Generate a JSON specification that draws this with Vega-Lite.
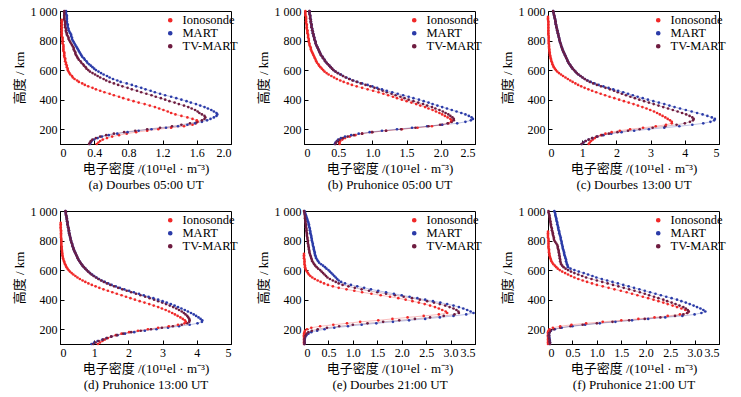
{
"$schema":"https://vega.github.io/schema/vega-lite/v6.json",
"padding":{"left":12,"top":4,"right":5,"bottom":5},
"config":{"font":"Liberation Serif","view":{"stroke":"black","strokeWidth":1},
"axis":{"domainColor":"black","tickColor":"black","labelColor":"black","titleColor":"black","labelFont":"Liberation Serif","titleFont":"Liberation Serif, Noto Sans CJK SC","labelFontSize":12,"titleFontSize":13,"titleFontWeight":"normal","grid":false,"tickSize":-4,"labelPadding":7,"titleLineHeight":16,"titlePadding":4,"labelAngle":0},
"legend":{"labelFont":"Liberation Serif","labelFontSize":12.5,"labelColor":"black","symbolOpacity":1,"orient":"none","legendX":104,"legendY":3,"title":null,"padding":0,"symbolType":"circle","symbolSize":10,"rowPadding":-1.5,"labelOffset":6}},
"datasets":{"d":[
{"p":"a","h":1000,"M":0.07,"T":0.05},{"p":"a","h":990,"M":0.07,"T":0.05},{"p":"a","h":980,"M":0.07,"T":0.05},{"p":"a","h":970,"M":0.08,"T":0.05},{"p":"a","h":960,"M":0.08,"T":0.05},{"p":"a","h":950,"M":0.08,"T":0.05},
{"p":"a","h":940,"I":0.02,"M":0.08,"T":0.05},{"p":"a","h":930,"I":0.02,"M":0.08,"T":0.06},{"p":"a","h":920,"I":0.02,"M":0.08,"T":0.06},{"p":"a","h":910,"I":0.02,"M":0.09,"T":0.06},{"p":"a","h":900,"I":0.02,"M":0.09,"T":0.06},
{"p":"a","h":890,"I":0.02,"M":0.09,"T":0.06},{"p":"a","h":880,"I":0.02,"M":0.10,"T":0.07},{"p":"a","h":870,"I":0.02,"M":0.10,"T":0.07},{"p":"a","h":860,"I":0.02,"M":0.11,"T":0.07},{"p":"a","h":850,"I":0.02,"M":0.12,"T":0.08},
{"p":"a","h":840,"I":0.02,"M":0.13,"T":0.08},{"p":"a","h":830,"I":0.02,"M":0.13,"T":0.09},{"p":"a","h":820,"I":0.03,"M":0.14,"T":0.10},{"p":"a","h":810,"I":0.03,"M":0.14,"T":0.10},{"p":"a","h":800,"I":0.03,"M":0.15,"T":0.11},
{"p":"a","h":790,"I":0.03,"M":0.16,"T":0.12},{"p":"a","h":780,"I":0.03,"M":0.17,"T":0.13},{"p":"a","h":770,"I":0.04,"M":0.18,"T":0.14},{"p":"a","h":760,"I":0.04,"M":0.19,"T":0.15},{"p":"a","h":750,"I":0.04,"M":0.20,"T":0.16},
{"p":"a","h":740,"I":0.04,"M":0.21,"T":0.16},{"p":"a","h":730,"I":0.04,"M":0.22,"T":0.17},{"p":"a","h":720,"I":0.05,"M":0.23,"T":0.18},{"p":"a","h":710,"I":0.05,"M":0.24,"T":0.18},{"p":"a","h":700,"I":0.05,"M":0.25,"T":0.19},
{"p":"a","h":690,"I":0.05,"M":0.26,"T":0.20},{"p":"a","h":680,"I":0.06,"M":0.28,"T":0.21},{"p":"a","h":670,"I":0.06,"M":0.29,"T":0.22},{"p":"a","h":660,"I":0.06,"M":0.31,"T":0.24},{"p":"a","h":650,"I":0.07,"M":0.32,"T":0.25},
{"p":"a","h":640,"I":0.07,"M":0.34,"T":0.27},{"p":"a","h":630,"I":0.08,"M":0.36,"T":0.28},{"p":"a","h":620,"I":0.08,"M":0.38,"T":0.30},{"p":"a","h":610,"I":0.09,"M":0.40,"T":0.31},{"p":"a","h":600,"I":0.09,"M":0.42,"T":0.33},
{"p":"a","h":590,"I":0.10,"M":0.45,"T":0.35},{"p":"a","h":580,"I":0.11,"M":0.48,"T":0.38},{"p":"a","h":570,"I":0.12,"M":0.51,"T":0.41},{"p":"a","h":560,"I":0.14,"M":0.55,"T":0.44},{"p":"a","h":550,"I":0.15,"M":0.58,"T":0.47},
{"p":"a","h":540,"I":0.17,"M":0.62,"T":0.51},{"p":"a","h":530,"I":0.20,"M":0.67,"T":0.54},{"p":"a","h":520,"I":0.22,"M":0.71,"T":0.58},{"p":"a","h":510,"I":0.26,"M":0.78,"T":0.63},{"p":"a","h":500,"I":0.29,"M":0.84,"T":0.68},
{"p":"a","h":490,"I":0.33,"M":0.89,"T":0.73},{"p":"a","h":480,"I":0.38,"M":0.95,"T":0.79},{"p":"a","h":470,"I":0.42,"M":1.00,"T":0.84},{"p":"a","h":460,"I":0.47,"M":1.06,"T":0.90},{"p":"a","h":450,"I":0.52,"M":1.11,"T":0.95},
{"p":"a","h":440,"I":0.58,"M":1.17,"T":1.01},{"p":"a","h":430,"I":0.63,"M":1.23,"T":1.07},{"p":"a","h":420,"I":0.69,"M":1.30,"T":1.12},{"p":"a","h":410,"I":0.74,"M":1.36,"T":1.18},{"p":"a","h":400,"I":0.80,"M":1.42,"T":1.23},
{"p":"a","h":390,"I":0.86,"M":1.48,"T":1.28},{"p":"a","h":380,"I":0.92,"M":1.53,"T":1.34},{"p":"a","h":370,"I":0.99,"M":1.59,"T":1.39},{"p":"a","h":360,"I":1.05,"M":1.64,"T":1.45},{"p":"a","h":350,"I":1.11,"M":1.69,"T":1.50},
{"p":"a","h":340,"I":1.16,"M":1.73,"T":1.54},{"p":"a","h":330,"I":1.21,"M":1.77,"T":1.58},{"p":"a","h":320,"I":1.26,"M":1.80,"T":1.61},{"p":"a","h":310,"I":1.30,"M":1.83,"T":1.63},{"p":"a","h":300,"I":1.35,"M":1.84,"T":1.66},
{"p":"a","h":290,"I":1.42,"M":1.83,"T":1.69},{"p":"a","h":280,"I":1.49,"M":1.80,"T":1.70},{"p":"a","h":270,"I":1.55,"M":1.76,"T":1.69},{"p":"a","h":260,"I":1.60,"M":1.72,"T":1.66},{"p":"a","h":250,"I":1.61,"M":1.66,"T":1.60},
{"p":"a","h":240,"I":1.59,"M":1.58,"T":1.52},{"p":"a","h":230,"I":1.55,"M":1.49,"T":1.42},{"p":"a","h":220,"I":1.45,"M":1.38,"T":1.31},{"p":"a","h":210,"I":1.30,"M":1.24,"T":1.17},{"p":"a","h":200,"I":1.15,"M":1.07,"T":1.02},
{"p":"a","h":190,"I":1.02,"M":0.92,"T":0.88},{"p":"a","h":180,"I":0.89,"M":0.79,"T":0.75},{"p":"a","h":170,"I":0.78,"M":0.67,"T":0.63},{"p":"a","h":160,"I":0.69,"M":0.57,"T":0.54},{"p":"a","h":150,"I":0.61,"M":0.49,"T":0.47},
{"p":"a","h":140,"I":0.55,"M":0.44,"T":0.42},{"p":"a","h":130,"I":0.50,"M":0.40,"T":0.38},{"p":"a","h":120,"I":0.47,"M":0.37,"T":0.36},{"p":"a","h":110,"I":0.45,"M":0.36,"T":0.35},{"p":"a","h":100,"I":0.43,"M":0.35,"T":0.34},

{"p":"b","h":1000,"I":0.02,"M":0.08,"T":0.08},{"p":"b","h":990,"I":0.02,"M":0.08,"T":0.08},{"p":"b","h":980,"I":0.02,"M":0.08,"T":0.08},{"p":"b","h":970,"I":0.02,"M":0.09,"T":0.09},{"p":"b","h":960,"I":0.03,"M":0.09,"T":0.09},
{"p":"b","h":950,"I":0.03,"M":0.09,"T":0.09},{"p":"b","h":940,"I":0.03,"M":0.10,"T":0.10},{"p":"b","h":930,"I":0.03,"M":0.10,"T":0.10},{"p":"b","h":920,"I":0.03,"M":0.10,"T":0.10},{"p":"b","h":910,"I":0.04,"M":0.11,"T":0.11},
{"p":"b","h":900,"I":0.04,"M":0.11,"T":0.11},{"p":"b","h":890,"I":0.04,"M":0.11,"T":0.11},{"p":"b","h":880,"I":0.04,"M":0.12,"T":0.12},{"p":"b","h":870,"I":0.05,"M":0.12,"T":0.12},{"p":"b","h":860,"I":0.05,"M":0.13,"T":0.13},
{"p":"b","h":850,"I":0.05,"M":0.13,"T":0.13},{"p":"b","h":840,"I":0.06,"M":0.14,"T":0.14},{"p":"b","h":830,"I":0.06,"M":0.14,"T":0.14},{"p":"b","h":820,"I":0.06,"M":0.15,"T":0.15},{"p":"b","h":810,"I":0.07,"M":0.15,"T":0.15},
{"p":"b","h":800,"I":0.07,"M":0.16,"T":0.16},{"p":"b","h":790,"I":0.07,"M":0.17,"T":0.17},{"p":"b","h":780,"I":0.08,"M":0.17,"T":0.17},{"p":"b","h":770,"I":0.08,"M":0.18,"T":0.18},{"p":"b","h":760,"I":0.09,"M":0.19,"T":0.19},
{"p":"b","h":750,"I":0.10,"M":0.20,"T":0.20},{"p":"b","h":740,"I":0.10,"M":0.21,"T":0.21},{"p":"b","h":730,"I":0.11,"M":0.22,"T":0.22},{"p":"b","h":720,"I":0.12,"M":0.23,"T":0.23},{"p":"b","h":710,"I":0.13,"M":0.24,"T":0.24},
{"p":"b","h":700,"I":0.14,"M":0.25,"T":0.25},{"p":"b","h":690,"I":0.15,"M":0.27,"T":0.27},{"p":"b","h":680,"I":0.16,"M":0.28,"T":0.28},{"p":"b","h":670,"I":0.17,"M":0.30,"T":0.30},{"p":"b","h":660,"I":0.18,"M":0.31,"T":0.31},
{"p":"b","h":650,"I":0.19,"M":0.33,"T":0.33},{"p":"b","h":640,"I":0.21,"M":0.35,"T":0.35},{"p":"b","h":630,"I":0.22,"M":0.37,"T":0.37},{"p":"b","h":620,"I":0.24,"M":0.39,"T":0.39},{"p":"b","h":610,"I":0.26,"M":0.41,"T":0.41},
{"p":"b","h":600,"I":0.28,"M":0.43,"T":0.43},{"p":"b","h":590,"I":0.30,"M":0.46,"T":0.46},{"p":"b","h":580,"I":0.33,"M":0.50,"T":0.49},{"p":"b","h":570,"I":0.36,"M":0.54,"T":0.53},{"p":"b","h":560,"I":0.40,"M":0.57,"T":0.57},
{"p":"b","h":550,"I":0.44,"M":0.62,"T":0.61},{"p":"b","h":540,"I":0.48,"M":0.67,"T":0.66},{"p":"b","h":530,"I":0.53,"M":0.72,"T":0.71},{"p":"b","h":520,"I":0.58,"M":0.78,"T":0.77},{"p":"b","h":510,"I":0.64,"M":0.85,"T":0.83},
{"p":"b","h":500,"I":0.70,"M":0.93,"T":0.90},{"p":"b","h":490,"I":0.77,"M":1.00,"T":0.97},{"p":"b","h":480,"I":0.85,"M":1.07,"T":1.03},{"p":"b","h":470,"I":0.93,"M":1.14,"T":1.09},{"p":"b","h":460,"I":1.01,"M":1.21,"T":1.15},
{"p":"b","h":450,"I":1.09,"M":1.29,"T":1.21},{"p":"b","h":440,"I":1.16,"M":1.37,"T":1.28},{"p":"b","h":430,"I":1.23,"M":1.45,"T":1.34},{"p":"b","h":420,"I":1.30,"M":1.53,"T":1.41},{"p":"b","h":410,"I":1.36,"M":1.60,"T":1.47},
{"p":"b","h":400,"I":1.43,"M":1.68,"T":1.53},{"p":"b","h":390,"I":1.50,"M":1.75,"T":1.60},{"p":"b","h":380,"I":1.57,"M":1.82,"T":1.67},{"p":"b","h":370,"I":1.64,"M":1.88,"T":1.74},{"p":"b","h":360,"I":1.70,"M":1.95,"T":1.80},
{"p":"b","h":350,"I":1.77,"M":2.02,"T":1.87},{"p":"b","h":340,"I":1.82,"M":2.09,"T":1.92},{"p":"b","h":330,"I":1.88,"M":2.16,"T":1.98},{"p":"b","h":320,"I":1.93,"M":2.23,"T":2.03},{"p":"b","h":310,"I":1.98,"M":2.30,"T":2.07},
{"p":"b","h":300,"I":2.02,"M":2.36,"T":2.11},{"p":"b","h":290,"I":2.06,"M":2.41,"T":2.14},{"p":"b","h":280,"I":2.10,"M":2.45,"T":2.17},{"p":"b","h":270,"I":2.14,"M":2.47,"T":2.19},{"p":"b","h":260,"I":2.16,"M":2.44,"T":2.19},
{"p":"b","h":250,"I":2.15,"M":2.36,"T":2.16},{"p":"b","h":240,"I":2.11,"M":2.24,"T":2.10},{"p":"b","h":230,"I":2.02,"M":2.02,"T":1.99},{"p":"b","h":220,"I":1.87,"M":1.80,"T":1.82},{"p":"b","h":210,"I":1.66,"M":1.58,"T":1.63},
{"p":"b","h":200,"I":1.43,"M":1.36,"T":1.42},{"p":"b","h":190,"I":1.20,"M":1.14,"T":1.20},{"p":"b","h":180,"I":0.99,"M":0.96,"T":1.00},{"p":"b","h":170,"I":0.85,"M":0.80,"T":0.85},{"p":"b","h":160,"I":0.75,"M":0.69,"T":0.73},
{"p":"b","h":150,"I":0.67,"M":0.60,"T":0.64},{"p":"b","h":140,"I":0.60,"M":0.54,"T":0.57},{"p":"b","h":130,"I":0.56,"M":0.50,"T":0.52},{"p":"b","h":120,"I":0.53,"M":0.48,"T":0.49},{"p":"b","h":110,"I":0.52,"M":0.46,"T":0.47},
{"p":"b","h":100,"I":0.52,"M":0.45,"T":0.46},

{"p":"c","h":1000,"M":0.15,"T":0.15},{"p":"c","h":990,"M":0.16,"T":0.16},{"p":"c","h":980,"M":0.17,"T":0.17},{"p":"c","h":970,"M":0.18,"T":0.18},{"p":"c","h":960,"I":0.00,"M":0.19,"T":0.19},
{"p":"c","h":950,"I":0.00,"M":0.20,"T":0.20},{"p":"c","h":940,"I":0.00,"M":0.21,"T":0.21},{"p":"c","h":930,"I":0.01,"M":0.22,"T":0.22},{"p":"c","h":920,"I":0.01,"M":0.22,"T":0.22},{"p":"c","h":910,"I":0.01,"M":0.23,"T":0.23},
{"p":"c","h":900,"I":0.01,"M":0.24,"T":0.24},{"p":"c","h":890,"I":0.01,"M":0.25,"T":0.25},{"p":"c","h":880,"I":0.01,"M":0.26,"T":0.26},{"p":"c","h":870,"I":0.01,"M":0.27,"T":0.27},{"p":"c","h":860,"I":0.01,"M":0.28,"T":0.28},
{"p":"c","h":850,"I":0.01,"M":0.29,"T":0.29},{"p":"c","h":840,"I":0.01,"M":0.30,"T":0.30},{"p":"c","h":830,"I":0.02,"M":0.31,"T":0.31},{"p":"c","h":820,"I":0.02,"M":0.32,"T":0.32},{"p":"c","h":810,"I":0.02,"M":0.33,"T":0.33},
{"p":"c","h":800,"I":0.02,"M":0.34,"T":0.34},{"p":"c","h":790,"I":0.02,"M":0.35,"T":0.35},{"p":"c","h":780,"I":0.02,"M":0.37,"T":0.37},{"p":"c","h":770,"I":0.03,"M":0.38,"T":0.38},{"p":"c","h":760,"I":0.03,"M":0.39,"T":0.39},
{"p":"c","h":750,"I":0.03,"M":0.41,"T":0.41},{"p":"c","h":740,"I":0.04,"M":0.42,"T":0.42},{"p":"c","h":730,"I":0.04,"M":0.44,"T":0.44},{"p":"c","h":720,"I":0.05,"M":0.46,"T":0.46},{"p":"c","h":710,"I":0.05,"M":0.48,"T":0.48},
{"p":"c","h":700,"I":0.06,"M":0.50,"T":0.50},{"p":"c","h":690,"I":0.07,"M":0.52,"T":0.52},{"p":"c","h":680,"I":0.08,"M":0.54,"T":0.54},{"p":"c","h":670,"I":0.09,"M":0.56,"T":0.56},{"p":"c","h":660,"I":0.10,"M":0.58,"T":0.58},
{"p":"c","h":650,"I":0.12,"M":0.60,"T":0.60},{"p":"c","h":640,"I":0.13,"M":0.63,"T":0.63},{"p":"c","h":630,"I":0.15,"M":0.66,"T":0.66},{"p":"c","h":620,"I":0.17,"M":0.69,"T":0.69},{"p":"c","h":610,"I":0.20,"M":0.72,"T":0.72},
{"p":"c","h":600,"I":0.23,"M":0.76,"T":0.76},{"p":"c","h":590,"I":0.27,"M":0.80,"T":0.80},{"p":"c","h":580,"I":0.32,"M":0.84,"T":0.84},{"p":"c","h":570,"I":0.38,"M":0.89,"T":0.89},{"p":"c","h":560,"I":0.44,"M":0.95,"T":0.95},
{"p":"c","h":550,"I":0.51,"M":1.01,"T":1.01},{"p":"c","h":540,"I":0.58,"M":1.08,"T":1.07},{"p":"c","h":530,"I":0.65,"M":1.16,"T":1.14},{"p":"c","h":520,"I":0.72,"M":1.25,"T":1.22},{"p":"c","h":510,"I":0.80,"M":1.36,"T":1.32},
{"p":"c","h":500,"I":0.88,"M":1.48,"T":1.43},{"p":"c","h":490,"I":0.97,"M":1.62,"T":1.55},{"p":"c","h":480,"I":1.07,"M":1.77,"T":1.68},{"p":"c","h":470,"I":1.18,"M":1.91,"T":1.81},{"p":"c","h":460,"I":1.29,"M":2.05,"T":1.93},
{"p":"c","h":450,"I":1.41,"M":2.20,"T":2.04},{"p":"c","h":440,"I":1.54,"M":2.34,"T":2.16},{"p":"c","h":430,"I":1.67,"M":2.48,"T":2.28},{"p":"c","h":420,"I":1.80,"M":2.62,"T":2.41},{"p":"c","h":410,"I":1.94,"M":2.77,"T":2.54},
{"p":"c","h":400,"I":2.08,"M":2.92,"T":2.67},{"p":"c","h":390,"I":2.22,"M":3.08,"T":2.81},{"p":"c","h":380,"I":2.36,"M":3.24,"T":2.95},{"p":"c","h":370,"I":2.50,"M":3.40,"T":3.09},{"p":"c","h":360,"I":2.63,"M":3.55,"T":3.23},
{"p":"c","h":350,"I":2.76,"M":3.70,"T":3.37},{"p":"c","h":340,"I":2.88,"M":3.86,"T":3.51},{"p":"c","h":330,"I":2.99,"M":4.03,"T":3.65},{"p":"c","h":320,"I":3.10,"M":4.20,"T":3.79},{"p":"c","h":310,"I":3.19,"M":4.36,"T":3.92},
{"p":"c","h":300,"I":3.27,"M":4.52,"T":4.04},{"p":"c","h":290,"I":3.35,"M":4.66,"T":4.14},{"p":"c","h":280,"I":3.43,"M":4.79,"T":4.22},{"p":"c","h":270,"I":3.50,"M":4.88,"T":4.26},{"p":"c","h":260,"I":3.57,"M":4.86,"T":4.24},
{"p":"c","h":250,"I":3.62,"M":4.75,"T":4.15},{"p":"c","h":240,"I":3.62,"M":4.54,"T":4.00},{"p":"c","h":230,"I":3.45,"M":4.22,"T":3.76},{"p":"c","h":220,"I":3.15,"M":3.84,"T":3.43},{"p":"c","h":210,"I":2.78,"M":3.40,"T":3.06},
{"p":"c","h":200,"I":2.40,"M":2.95,"T":2.68},{"p":"c","h":190,"I":2.10,"M":2.52,"T":2.34},{"p":"c","h":180,"I":1.86,"M":2.15,"T":2.03},{"p":"c","h":170,"I":1.68,"M":1.85,"T":1.78},{"p":"c","h":160,"I":1.55,"M":1.62,"T":1.58},
{"p":"c","h":150,"I":1.45,"M":1.44,"T":1.42},{"p":"c","h":140,"I":1.37,"M":1.30,"T":1.29},{"p":"c","h":130,"I":1.31,"M":1.19,"T":1.19},{"p":"c","h":120,"I":1.26,"M":1.10,"T":1.10},{"p":"c","h":110,"I":1.22,"M":1.04,"T":1.03},
{"p":"c","h":100,"I":1.19,"M":0.99,"T":0.98},

{"p":"d","h":1000,"M":0.16,"T":0.16},{"p":"d","h":990,"M":0.17,"T":0.17},{"p":"d","h":980,"M":0.17,"T":0.17},{"p":"d","h":970,"M":0.18,"T":0.18},{"p":"d","h":960,"M":0.19,"T":0.19},
{"p":"d","h":950,"M":0.20,"T":0.20},{"p":"d","h":940,"M":0.20,"T":0.20},{"p":"d","h":930,"M":0.21,"T":0.21},{"p":"d","h":920,"I":0.02,"M":0.22,"T":0.22},{"p":"d","h":910,"I":0.02,"M":0.22,"T":0.22},
{"p":"d","h":900,"I":0.02,"M":0.23,"T":0.23},{"p":"d","h":890,"I":0.02,"M":0.24,"T":0.24},{"p":"d","h":880,"I":0.02,"M":0.25,"T":0.25},{"p":"d","h":870,"I":0.03,"M":0.26,"T":0.26},{"p":"d","h":860,"I":0.03,"M":0.26,"T":0.26},
{"p":"d","h":850,"I":0.03,"M":0.27,"T":0.27},{"p":"d","h":840,"I":0.03,"M":0.28,"T":0.28},{"p":"d","h":830,"I":0.03,"M":0.29,"T":0.29},{"p":"d","h":820,"I":0.03,"M":0.30,"T":0.30},{"p":"d","h":810,"I":0.04,"M":0.31,"T":0.31},
{"p":"d","h":800,"I":0.04,"M":0.32,"T":0.32},{"p":"d","h":790,"I":0.04,"M":0.33,"T":0.33},{"p":"d","h":780,"I":0.04,"M":0.35,"T":0.35},{"p":"d","h":770,"I":0.04,"M":0.36,"T":0.36},{"p":"d","h":760,"I":0.05,"M":0.37,"T":0.37},
{"p":"d","h":750,"I":0.05,"M":0.39,"T":0.39},{"p":"d","h":740,"I":0.05,"M":0.40,"T":0.40},{"p":"d","h":730,"I":0.06,"M":0.42,"T":0.42},{"p":"d","h":720,"I":0.06,"M":0.44,"T":0.44},{"p":"d","h":710,"I":0.07,"M":0.46,"T":0.46},
{"p":"d","h":700,"I":0.07,"M":0.48,"T":0.48},{"p":"d","h":690,"I":0.08,"M":0.50,"T":0.50},{"p":"d","h":680,"I":0.09,"M":0.52,"T":0.52},{"p":"d","h":670,"I":0.10,"M":0.54,"T":0.54},{"p":"d","h":660,"I":0.12,"M":0.57,"T":0.57},
{"p":"d","h":650,"I":0.13,"M":0.60,"T":0.60},{"p":"d","h":640,"I":0.15,"M":0.63,"T":0.63},{"p":"d","h":630,"I":0.17,"M":0.66,"T":0.66},{"p":"d","h":620,"I":0.19,"M":0.70,"T":0.70},{"p":"d","h":610,"I":0.22,"M":0.74,"T":0.74},
{"p":"d","h":600,"I":0.25,"M":0.78,"T":0.78},{"p":"d","h":590,"I":0.29,"M":0.83,"T":0.82},{"p":"d","h":580,"I":0.34,"M":0.88,"T":0.87},{"p":"d","h":570,"I":0.39,"M":0.94,"T":0.92},{"p":"d","h":560,"I":0.45,"M":1.00,"T":0.98},
{"p":"d","h":550,"I":0.51,"M":1.07,"T":1.05},{"p":"d","h":540,"I":0.58,"M":1.14,"T":1.12},{"p":"d","h":530,"I":0.66,"M":1.22,"T":1.20},{"p":"d","h":520,"I":0.74,"M":1.31,"T":1.28},{"p":"d","h":510,"I":0.83,"M":1.41,"T":1.37},
{"p":"d","h":500,"I":0.93,"M":1.51,"T":1.47},{"p":"d","h":490,"I":1.04,"M":1.63,"T":1.58},{"p":"d","h":480,"I":1.15,"M":1.75,"T":1.70},{"p":"d","h":470,"I":1.27,"M":1.88,"T":1.82},{"p":"d","h":460,"I":1.40,"M":2.02,"T":1.95},
{"p":"d","h":450,"I":1.53,"M":2.16,"T":2.08},{"p":"d","h":440,"I":1.66,"M":2.31,"T":2.22},{"p":"d","h":430,"I":1.80,"M":2.45,"T":2.35},{"p":"d","h":420,"I":1.93,"M":2.59,"T":2.49},{"p":"d","h":410,"I":2.06,"M":2.73,"T":2.62},
{"p":"d","h":400,"I":2.19,"M":2.87,"T":2.75},{"p":"d","h":390,"I":2.33,"M":3.00,"T":2.87},{"p":"d","h":380,"I":2.47,"M":3.12,"T":2.99},{"p":"d","h":370,"I":2.61,"M":3.24,"T":3.10},{"p":"d","h":360,"I":2.74,"M":3.35,"T":3.21},
{"p":"d","h":350,"I":2.87,"M":3.45,"T":3.31},{"p":"d","h":340,"I":2.98,"M":3.55,"T":3.40},{"p":"d","h":330,"I":3.09,"M":3.65,"T":3.48},{"p":"d","h":320,"I":3.19,"M":3.74,"T":3.56},{"p":"d","h":310,"I":3.28,"M":3.83,"T":3.62},
{"p":"d","h":300,"I":3.36,"M":3.91,"T":3.67},{"p":"d","h":290,"I":3.44,"M":3.98,"T":3.72},{"p":"d","h":280,"I":3.52,"M":4.05,"T":3.75},{"p":"d","h":270,"I":3.59,"M":4.11,"T":3.78},{"p":"d","h":260,"I":3.65,"M":4.16,"T":3.79},
{"p":"d","h":250,"I":3.68,"M":4.15,"T":3.78},{"p":"d","h":240,"I":3.64,"M":4.02,"T":3.72},{"p":"d","h":230,"I":3.45,"M":3.79,"T":3.56},{"p":"d","h":220,"I":3.18,"M":3.48,"T":3.30},{"p":"d","h":210,"I":2.87,"M":3.16,"T":2.98},
{"p":"d","h":200,"I":2.57,"M":2.82,"T":2.66},{"p":"d","h":190,"I":2.28,"M":2.48,"T":2.36},{"p":"d","h":180,"I":2.02,"M":2.17,"T":2.08},{"p":"d","h":170,"I":1.80,"M":1.90,"T":1.85},{"p":"d","h":160,"I":1.63,"M":1.68,"T":1.66},
{"p":"d","h":150,"I":1.50,"M":1.50,"T":1.50},{"p":"d","h":140,"I":1.40,"M":1.36,"T":1.37},{"p":"d","h":130,"I":1.31,"M":1.24,"T":1.26},{"p":"d","h":120,"I":1.24,"M":1.10,"T":1.13},{"p":"d","h":110,"I":1.17,"M":1.00,"T":1.04},
{"p":"d","h":100,"I":1.11,"M":0.92,"T":0.97},

{"p":"e","h":1000,"M":0.01,"T":0.00},{"p":"e","h":990,"M":0.02,"T":0.01},{"p":"e","h":980,"M":0.03,"T":0.01},{"p":"e","h":970,"M":0.04,"T":0.02},{"p":"e","h":960,"M":0.05,"T":0.02},
{"p":"e","h":950,"M":0.06,"T":0.02},{"p":"e","h":940,"M":0.07,"T":0.03},{"p":"e","h":930,"M":0.08,"T":0.03},{"p":"e","h":920,"M":0.09,"T":0.03},{"p":"e","h":910,"M":0.10,"T":0.04},
{"p":"e","h":900,"M":0.10,"T":0.04},{"p":"e","h":890,"M":0.11,"T":0.04},{"p":"e","h":880,"M":0.12,"T":0.05},{"p":"e","h":870,"M":0.12,"T":0.05},{"p":"e","h":860,"M":0.13,"T":0.05},
{"p":"e","h":850,"M":0.13,"T":0.06},{"p":"e","h":840,"M":0.14,"T":0.06},{"p":"e","h":830,"M":0.15,"T":0.06},{"p":"e","h":820,"M":0.15,"T":0.07},{"p":"e","h":810,"M":0.16,"T":0.07},
{"p":"e","h":800,"M":0.16,"T":0.08},{"p":"e","h":790,"M":0.17,"T":0.08},{"p":"e","h":780,"M":0.18,"T":0.08},{"p":"e","h":770,"M":0.18,"T":0.09},{"p":"e","h":760,"M":0.19,"T":0.09},
{"p":"e","h":750,"M":0.20,"T":0.10},{"p":"e","h":740,"M":0.20,"T":0.10},{"p":"e","h":730,"M":0.21,"T":0.11},{"p":"e","h":720,"M":0.22,"T":0.11},{"p":"e","h":710,"I":0.00,"M":0.22,"T":0.12},
{"p":"e","h":700,"I":0.00,"M":0.23,"T":0.13},{"p":"e","h":690,"I":0.00,"M":0.24,"T":0.14},{"p":"e","h":680,"I":0.00,"M":0.25,"T":0.15},{"p":"e","h":670,"I":0.01,"M":0.27,"T":0.16},{"p":"e","h":660,"I":0.01,"M":0.29,"T":0.17},
{"p":"e","h":650,"I":0.01,"M":0.31,"T":0.19},{"p":"e","h":640,"I":0.01,"M":0.35,"T":0.21},{"p":"e","h":630,"I":0.02,"M":0.39,"T":0.23},{"p":"e","h":620,"I":0.02,"M":0.43,"T":0.26},{"p":"e","h":610,"I":0.03,"M":0.46,"T":0.29},
{"p":"e","h":600,"I":0.04,"M":0.50,"T":0.33},{"p":"e","h":590,"I":0.06,"M":0.53,"T":0.36},{"p":"e","h":580,"I":0.08,"M":0.56,"T":0.39},{"p":"e","h":570,"I":0.10,"M":0.59,"T":0.42},{"p":"e","h":560,"I":0.13,"M":0.62,"T":0.45},
{"p":"e","h":550,"I":0.17,"M":0.65,"T":0.48},{"p":"e","h":540,"I":0.22,"M":0.68,"T":0.53},{"p":"e","h":530,"I":0.28,"M":0.71,"T":0.59},{"p":"e","h":520,"I":0.34,"M":0.76,"T":0.65},{"p":"e","h":510,"I":0.41,"M":0.84,"T":0.71},
{"p":"e","h":500,"I":0.49,"M":0.96,"T":0.79},{"p":"e","h":490,"I":0.59,"M":1.09,"T":0.91},{"p":"e","h":480,"I":0.71,"M":1.23,"T":1.04},{"p":"e","h":470,"I":0.87,"M":1.37,"T":1.18},{"p":"e","h":460,"I":1.03,"M":1.52,"T":1.33},
{"p":"e","h":450,"I":1.19,"M":1.68,"T":1.50},{"p":"e","h":440,"I":1.38,"M":1.84,"T":1.68},{"p":"e","h":430,"I":1.57,"M":2.00,"T":1.86},{"p":"e","h":420,"I":1.76,"M":2.16,"T":2.04},{"p":"e","h":410,"I":1.93,"M":2.32,"T":2.21},
{"p":"e","h":400,"I":2.08,"M":2.48,"T":2.37},{"p":"e","h":390,"I":2.22,"M":2.64,"T":2.52},{"p":"e","h":380,"I":2.35,"M":2.79,"T":2.66},{"p":"e","h":370,"I":2.47,"M":2.93,"T":2.78},{"p":"e","h":360,"I":2.58,"M":3.06,"T":2.89},
{"p":"e","h":350,"I":2.68,"M":3.17,"T":2.98},{"p":"e","h":340,"I":2.76,"M":3.26,"T":3.06},{"p":"e","h":330,"I":2.83,"M":3.34,"T":3.12},{"p":"e","h":320,"I":2.90,"M":3.41,"T":3.16},{"p":"e","h":310,"I":2.93,"M":3.47,"T":3.17},
{"p":"e","h":300,"I":2.76,"M":3.32,"T":3.08},{"p":"e","h":290,"I":2.45,"M":3.06,"T":2.86},{"p":"e","h":280,"I":2.12,"M":2.78,"T":2.58},{"p":"e","h":270,"I":1.81,"M":2.48,"T":2.27},{"p":"e","h":260,"I":1.52,"M":2.15,"T":1.95},
{"p":"e","h":250,"I":1.15,"M":1.82,"T":1.62},{"p":"e","h":240,"I":0.88,"M":1.48,"T":1.30},{"p":"e","h":230,"I":0.60,"M":1.18,"T":1.00},{"p":"e","h":220,"I":0.33,"M":0.90,"T":0.72},{"p":"e","h":210,"I":0.15,"M":0.62,"T":0.47},
{"p":"e","h":200,"I":0.06,"M":0.42,"T":0.28},{"p":"e","h":190,"I":0.02,"M":0.27,"T":0.16},{"p":"e","h":180,"I":0.01,"M":0.15,"T":0.09},{"p":"e","h":170,"I":0.00,"M":0.09,"T":0.05},{"p":"e","h":160,"I":0.00,"M":0.05,"T":0.03},
{"p":"e","h":150,"I":0.00,"M":0.03,"T":0.02},{"p":"e","h":140,"I":0.00,"M":0.02,"T":0.01},{"p":"e","h":130,"I":0.00,"M":0.01,"T":0.01},{"p":"e","h":120,"I":0.00,"M":0.01,"T":0.01},{"p":"e","h":110,"I":0.00,"M":0.01,"T":0.01},
{"p":"e","h":100,"I":0.00,"M":0.01,"T":0.01},

{"p":"f","h":1000,"M":0.13,"T":0.01},{"p":"f","h":990,"M":0.14,"T":0.01},{"p":"f","h":980,"M":0.15,"T":0.02},{"p":"f","h":970,"M":0.15,"T":0.03},{"p":"f","h":960,"M":0.16,"T":0.03},
{"p":"f","h":950,"M":0.17,"T":0.04},{"p":"f","h":940,"M":0.17,"T":0.04},{"p":"f","h":930,"M":0.18,"T":0.05},{"p":"f","h":920,"M":0.19,"T":0.05},{"p":"f","h":910,"M":0.19,"T":0.06},
{"p":"f","h":900,"M":0.20,"T":0.06},{"p":"f","h":890,"M":0.21,"T":0.07},{"p":"f","h":880,"M":0.21,"T":0.08},{"p":"f","h":870,"M":0.22,"T":0.08},{"p":"f","h":860,"I":0.00,"M":0.23,"T":0.09},
{"p":"f","h":850,"I":0.00,"M":0.23,"T":0.10},{"p":"f","h":840,"I":0.00,"M":0.24,"T":0.10},{"p":"f","h":830,"I":0.00,"M":0.25,"T":0.11},{"p":"f","h":820,"I":0.00,"M":0.26,"T":0.12},{"p":"f","h":810,"I":0.01,"M":0.26,"T":0.12},
{"p":"f","h":800,"I":0.01,"M":0.27,"T":0.13},{"p":"f","h":790,"I":0.01,"M":0.28,"T":0.15},{"p":"f","h":780,"I":0.01,"M":0.28,"T":0.17},{"p":"f","h":770,"I":0.01,"M":0.29,"T":0.19},{"p":"f","h":760,"I":0.01,"M":0.30,"T":0.20},
{"p":"f","h":750,"I":0.01,"M":0.30,"T":0.20},{"p":"f","h":740,"I":0.02,"M":0.31,"T":0.21},{"p":"f","h":730,"I":0.02,"M":0.32,"T":0.22},{"p":"f","h":720,"I":0.02,"M":0.33,"T":0.22},{"p":"f","h":710,"I":0.03,"M":0.33,"T":0.23},
{"p":"f","h":700,"I":0.03,"M":0.34,"T":0.23},{"p":"f","h":690,"I":0.04,"M":0.35,"T":0.24},{"p":"f","h":680,"I":0.05,"M":0.36,"T":0.24},{"p":"f","h":670,"I":0.06,"M":0.37,"T":0.25},{"p":"f","h":660,"I":0.07,"M":0.37,"T":0.25},
{"p":"f","h":650,"I":0.09,"M":0.38,"T":0.26},{"p":"f","h":640,"I":0.11,"M":0.39,"T":0.27},{"p":"f","h":630,"I":0.14,"M":0.40,"T":0.29},{"p":"f","h":620,"I":0.17,"M":0.41,"T":0.32},{"p":"f","h":610,"I":0.20,"M":0.46,"T":0.36},
{"p":"f","h":600,"I":0.24,"M":0.54,"T":0.41},{"p":"f","h":590,"I":0.29,"M":0.63,"T":0.47},{"p":"f","h":580,"I":0.35,"M":0.73,"T":0.54},{"p":"f","h":570,"I":0.41,"M":0.82,"T":0.62},{"p":"f","h":560,"I":0.47,"M":0.91,"T":0.70},
{"p":"f","h":550,"I":0.54,"M":0.99,"T":0.78},{"p":"f","h":540,"I":0.62,"M":1.10,"T":0.89},{"p":"f","h":530,"I":0.71,"M":1.21,"T":1.00},{"p":"f","h":520,"I":0.80,"M":1.32,"T":1.11},{"p":"f","h":510,"I":0.90,"M":1.43,"T":1.22},
{"p":"f","h":500,"I":1.00,"M":1.54,"T":1.33},{"p":"f","h":490,"I":1.12,"M":1.65,"T":1.44},{"p":"f","h":480,"I":1.24,"M":1.76,"T":1.55},{"p":"f","h":470,"I":1.36,"M":1.87,"T":1.66},{"p":"f","h":460,"I":1.49,"M":1.98,"T":1.77},
{"p":"f","h":450,"I":1.61,"M":2.09,"T":1.88},{"p":"f","h":440,"I":1.72,"M":2.20,"T":1.98},{"p":"f","h":430,"I":1.83,"M":2.31,"T":2.07},{"p":"f","h":420,"I":1.94,"M":2.42,"T":2.17},{"p":"f","h":410,"I":2.05,"M":2.53,"T":2.26},
{"p":"f","h":400,"I":2.16,"M":2.64,"T":2.36},{"p":"f","h":390,"I":2.26,"M":2.73,"T":2.44},{"p":"f","h":380,"I":2.36,"M":2.82,"T":2.53},{"p":"f","h":370,"I":2.45,"M":2.90,"T":2.61},{"p":"f","h":360,"I":2.55,"M":2.98,"T":2.69},
{"p":"f","h":350,"I":2.64,"M":3.05,"T":2.77},{"p":"f","h":340,"I":2.73,"M":3.12,"T":2.82},{"p":"f","h":330,"I":2.81,"M":3.18,"T":2.86},{"p":"f","h":320,"I":2.88,"M":3.22,"T":2.88},{"p":"f","h":310,"I":2.85,"M":3.14,"T":2.85},
{"p":"f","h":300,"I":2.70,"M":3.00,"T":2.77},{"p":"f","h":290,"I":2.45,"M":2.75,"T":2.60},{"p":"f","h":280,"I":2.18,"M":2.40,"T":2.30},{"p":"f","h":270,"I":1.85,"M":2.05,"T":1.98},{"p":"f","h":260,"I":1.50,"M":1.72,"T":1.66},
{"p":"f","h":250,"I":1.12,"M":1.38,"T":1.32},{"p":"f","h":240,"I":0.78,"M":1.06,"T":1.00},{"p":"f","h":230,"I":0.48,"M":0.76,"T":0.71},{"p":"f","h":220,"I":0.25,"M":0.50,"T":0.46},{"p":"f","h":210,"I":0.10,"M":0.28,"T":0.25},
{"p":"f","h":200,"I":0.03,"M":0.14,"T":0.12},{"p":"f","h":190,"I":0.01,"M":0.06,"T":0.05},{"p":"f","h":180,"I":0.00,"M":0.03,"T":0.03},{"p":"f","h":170,"I":0.00,"M":0.02,"T":0.02},{"p":"f","h":160,"I":0.00,"M":0.02,"T":0.02},
{"p":"f","h":150,"I":0.00,"M":0.02,"T":0.02},{"p":"f","h":140,"I":0.00,"M":0.03,"T":0.02},{"p":"f","h":130,"I":0.00,"M":0.03,"T":0.03},{"p":"f","h":120,"I":0.00,"M":0.04,"T":0.03},{"p":"f","h":110,"I":0.00,"M":0.04,"T":0.04},
{"p":"f","h":100,"I":0.00,"M":0.04,"T":0.04}
]},
"resolve":{"scale":{"color":"independent","x":"independent"},"legend":{"color":"independent"}},
"spacing":12,
"vconcat":[
{"resolve":{"scale":{"color":"independent","x":"independent"},"legend":{"color":"independent"}},
"spacing":17,
"hconcat":[
{"width":171,"height":133,"data":{"name":"d"},
"transform":[{"filter":"datum.p=='a'"},{"fold":["I","M","T"],"as":["s","v"]},{"filter":"isValid(datum.v)"}],
"encoding":{
"x":{"field":"v","type":"quantitative","scale":{"domain":[0,2],"nice":false},"axis":{"values":[0,0.4,0.8,1.2,1.6,2],"labelExpr":"datum.value==0?'0':format(datum.value,'.1f')","title":["电子密度 /(10¹¹el · m⁻³)","(a) Dourbes 05:00 UT"]}},
"y":{"field":"h","type":"quantitative","scale":{"domain":[100,1000],"nice":false},"axis":{"values":[200,400,600,800,1000],"labelExpr":"datum.value==1000?'1 000':datum.label","title":"高度 / km"}},
"color":{"field":"s","type":"nominal","scale":{"domain":["I","M","T"],"range":["#f02828","#2b3ba8","#6e1c40"]},"legend":{"labelExpr":"datum.label=='I'?'Ionosonde':datum.label=='M'?'MART':'TV-MART'"}},
"order":{"field":"h","type":"quantitative"}},
"layer":[{"mark":{"type":"line","strokeWidth":1,"opacity":0.3}},{"mark":{"type":"point","filled":true,"size":7,"opacity":1}}]},
{"width":171,"height":133,"data":{"name":"d"},
"transform":[{"filter":"datum.p=='b'"},{"fold":["I","M","T"],"as":["s","v"]},{"filter":"isValid(datum.v)"}],
"encoding":{
"x":{"field":"v","type":"quantitative","scale":{"domain":[0,2.5],"nice":false},"axis":{"values":[0,0.5,1,1.5,2,2.5],"labelExpr":"datum.value==0?'0':format(datum.value,'.1f')","title":["电子密度 /(10¹¹el · m⁻³)","(b) Pruhonice 05:00 UT"]}},
"y":{"field":"h","type":"quantitative","scale":{"domain":[100,1000],"nice":false},"axis":{"values":[200,400,600,800,1000],"labelExpr":"datum.value==1000?'1 000':datum.label","title":"高度 / km"}},
"color":{"field":"s","type":"nominal","scale":{"domain":["I","M","T"],"range":["#f02828","#2b3ba8","#6e1c40"]},"legend":{"labelExpr":"datum.label=='I'?'Ionosonde':datum.label=='M'?'MART':'TV-MART'"}},
"order":{"field":"h","type":"quantitative"}},
"layer":[{"mark":{"type":"line","strokeWidth":1,"opacity":0.3}},{"mark":{"type":"point","filled":true,"size":7,"opacity":1}}]},
{"width":171,"height":133,"data":{"name":"d"},
"transform":[{"filter":"datum.p=='c'"},{"fold":["I","M","T"],"as":["s","v"]},{"filter":"isValid(datum.v)"}],
"encoding":{
"x":{"field":"v","type":"quantitative","scale":{"domain":[0,5],"nice":false},"axis":{"values":[0,1,2,3,4,5],"title":["电子密度 /(10¹¹el · m⁻³)","(c) Dourbes 13:00 UT"]}},
"y":{"field":"h","type":"quantitative","scale":{"domain":[100,1000],"nice":false},"axis":{"values":[200,400,600,800,1000],"labelExpr":"datum.value==1000?'1 000':datum.label","title":"高度 / km"}},
"color":{"field":"s","type":"nominal","scale":{"domain":["I","M","T"],"range":["#f02828","#2b3ba8","#6e1c40"]},"legend":{"labelExpr":"datum.label=='I'?'Ionosonde':datum.label=='M'?'MART':'TV-MART'"}},
"order":{"field":"h","type":"quantitative"}},
"layer":[{"mark":{"type":"line","strokeWidth":1,"opacity":0.3}},{"mark":{"type":"point","filled":true,"size":7,"opacity":1}}]}
]},
{"resolve":{"scale":{"color":"independent","x":"independent"},"legend":{"color":"independent"}},
"spacing":17,
"hconcat":[
{"width":171,"height":133,"data":{"name":"d"},
"transform":[{"filter":"datum.p=='d'"},{"fold":["I","M","T"],"as":["s","v"]},{"filter":"isValid(datum.v)"}],
"encoding":{
"x":{"field":"v","type":"quantitative","scale":{"domain":[0,5],"nice":false},"axis":{"values":[0,1,2,3,4,5],"title":["电子密度 /(10¹¹el · m⁻³)","(d) Pruhonice 13:00 UT"]}},
"y":{"field":"h","type":"quantitative","scale":{"domain":[100,1000],"nice":false},"axis":{"values":[200,400,600,800,1000],"labelExpr":"datum.value==1000?'1 000':datum.label","title":"高度 / km"}},
"color":{"field":"s","type":"nominal","scale":{"domain":["I","M","T"],"range":["#f02828","#2b3ba8","#6e1c40"]},"legend":{"labelExpr":"datum.label=='I'?'Ionosonde':datum.label=='M'?'MART':'TV-MART'"}},
"order":{"field":"h","type":"quantitative"}},
"layer":[{"mark":{"type":"line","strokeWidth":1,"opacity":0.3}},{"mark":{"type":"point","filled":true,"size":7,"opacity":1}}]},
{"width":171,"height":133,"data":{"name":"d"},
"transform":[{"filter":"datum.p=='e'"},{"fold":["I","M","T"],"as":["s","v"]},{"filter":"isValid(datum.v)"}],
"encoding":{
"x":{"field":"v","type":"quantitative","scale":{"domain":[0,3.5],"nice":false},"axis":{"values":[0,0.5,1,1.5,2,2.5,3,3.5],"labelExpr":"datum.value==0?'0':format(datum.value,'.1f')","title":["电子密度 /(10¹¹el · m⁻³)","(e) Dourbes 21:00 UT"]}},
"y":{"field":"h","type":"quantitative","scale":{"domain":[100,1000],"nice":false},"axis":{"values":[200,400,600,800,1000],"labelExpr":"datum.value==1000?'1 000':datum.label","title":"高度 / km"}},
"color":{"field":"s","type":"nominal","scale":{"domain":["I","M","T"],"range":["#f02828","#2b3ba8","#6e1c40"]},"legend":{"labelExpr":"datum.label=='I'?'Ionosonde':datum.label=='M'?'MART':'TV-MART'"}},
"order":{"field":"h","type":"quantitative"}},
"layer":[{"mark":{"type":"line","strokeWidth":1,"opacity":0.3}},{"mark":{"type":"point","filled":true,"size":7,"opacity":1}}]},
{"width":171,"height":133,"data":{"name":"d"},
"transform":[{"filter":"datum.p=='f'"},{"fold":["I","M","T"],"as":["s","v"]},{"filter":"isValid(datum.v)"}],
"encoding":{
"x":{"field":"v","type":"quantitative","scale":{"domain":[0,3.5],"nice":false},"axis":{"values":[0,0.5,1,1.5,2,2.5,3,3.5],"labelExpr":"datum.value==0?'0':format(datum.value,'.1f')","title":["电子密度 /(10¹¹el · m⁻³)","(f) Pruhonice 21:00 UT"]}},
"y":{"field":"h","type":"quantitative","scale":{"domain":[100,1000],"nice":false},"axis":{"values":[200,400,600,800,1000],"labelExpr":"datum.value==1000?'1 000':datum.label","title":"高度 / km"}},
"color":{"field":"s","type":"nominal","scale":{"domain":["I","M","T"],"range":["#f02828","#2b3ba8","#6e1c40"]},"legend":{"labelExpr":"datum.label=='I'?'Ionosonde':datum.label=='M'?'MART':'TV-MART'"}},
"order":{"field":"h","type":"quantitative"}},
"layer":[{"mark":{"type":"line","strokeWidth":1,"opacity":0.3}},{"mark":{"type":"point","filled":true,"size":7,"opacity":1}}]}
]}
]
}
